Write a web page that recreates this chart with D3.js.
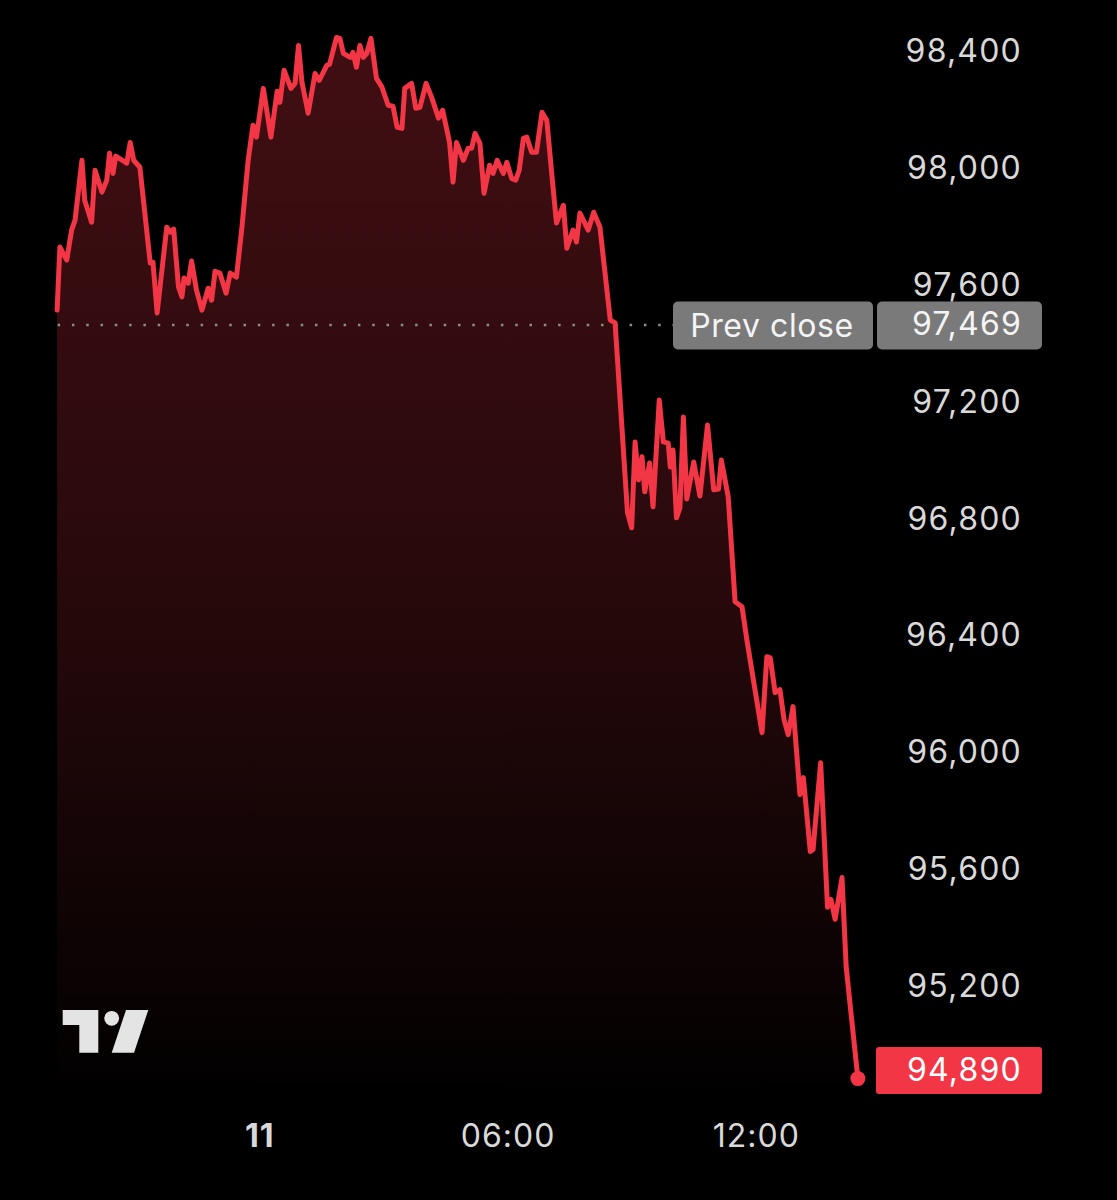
<!DOCTYPE html>
<html><head><meta charset="utf-8">
<script src="https://cdn.jsdelivr.net/npm/d3@7"></script>
<style>html,body{margin:0;background:#000;} svg{display:block}</style>
</head><body>
<svg id="c" width="1117" height="1200"></svg>
<script>
// ---- data ----
const times = [
"10 19:07","10 19:11","10 19:21","10 19:28","10 19:33","10 19:43","10 19:47","10 19:57","10 20:02","10 20:12",
"10 20:19","10 20:23","10 20:28","10 20:32","10 20:48","10 20:53","10 20:58","10 21:07","10 21:22","10 21:26",
"10 21:32","10 21:46","10 21:51","10 21:56","10 22:03","10 22:08","10 22:11","10 22:17","10 22:22","10 22:29",
"10 22:37","10 22:46","10 22:51","10 22:56","10 23:03","10 23:12","10 23:18","10 23:27","10 23:35","10 23:44",
"10 23:51","10 23:56","11 00:06","11 00:17","11 00:26","11 00:30","11 00:36","11 00:46","11 00:52","11 00:57",
"11 01:02","11 01:11","11 01:21","11 01:27","11 01:38","11 01:42","11 01:52","11 01:57","11 02:02","11 02:12",
"11 02:16","11 02:21","11 02:26","11 02:31","11 02:36","11 02:42","11 02:50","11 02:58","11 03:07","11 03:14",
"11 03:20","11 03:27","11 03:31","11 03:41","11 03:47","11 03:53","11 04:02","11 04:10","11 04:20","11 04:26",
"11 04:36","11 04:41","11 04:46","11 04:56","11 05:03","11 05:08","11 05:13","11 05:20","11 05:26","11 05:34",
"11 05:39","11 05:45","11 05:54","11 05:59","11 06:06","11 06:12","11 06:17","11 06:23","11 06:28","11 06:35",
"11 06:42","11 06:50","11 06:57","11 07:05","11 07:11","11 07:21","11 07:26","11 07:35","11 07:40","11 07:45",
"11 07:57","11 08:05","11 08:14","11 08:29","11 08:36","11 08:54","11 09:00","11 09:05","11 09:10","11 09:15",
"11 09:19","11 09:26","11 09:31","11 09:40","11 09:46","11 09:53","11 09:56","11 10:00","11 10:05","11 10:10",
"11 10:15","11 10:20","11 10:30","11 10:39","11 10:50","11 10:59","11 11:06","11 11:10","11 11:20","11 11:30",
"11 11:40","11 11:47","11 12:09","11 12:16","11 12:21","11 12:28","11 12:35","11 12:41","11 12:47","11 12:54",
"11 13:04","11 13:09","11 13:19","11 13:23","11 13:34","11 13:44","11 13:49","11 13:55","11 14:05","11 14:11",
"11 14:17","11 14:28"];
const prices = [
97520,97736,97691,97794,97828,98033,97896,97821,97999,97924,
97965,98057,97988,98047,98023,98094,98033,98009,97681,97684,
97510,97804,97787,97797,97599,97565,97630,97612,97688,97589,
97520,97595,97554,97653,97647,97578,97647,97633,97804,98033,
98153,98112,98279,98112,98269,98231,98341,98279,98296,98426,
98300,98194,98330,98306,98358,98361,98453,98450,98399,98385,
98402,98351,98426,98385,98399,98450,98313,98283,98221,98218,
98146,98142,98279,98296,98211,98214,98296,98248,98177,98204,
98094,97958,98094,98033,98074,98074,98125,98091,97920,98016,
97988,98033,97988,98026,97971,97965,97999,98108,98112,98060,
98060,98197,98170,97965,97818,97879,97732,97794,97753,97852,
97794,97855,97804,97486,97476,96826,96775,97069,96939,97018,
96898,96997,96847,97212,97069,97065,96983,97041,96809,96843,
97154,96874,97000,96884,97127,96905,96908,97007,96881,96522,
96505,96392,96074,96334,96330,96211,96221,96118,96067,96163,
95862,95920,95667,95674,95971,95476,95503,95435,95578,95274,
95137,94890];
const yTicks = [95200, 95600, 96000, 96400, 96800, 97200, 97600, 98000, 98400];
const xTicks = ["11 00:00", "11 06:00", "11 12:00"];
const xTickLabels = ["11", "06:00", "12:00"];
const prevClose = 97469;
const lastPrice = 94890;
const prevCloseLabel = "Prev close";

// ---- chart ----
const FONT = "Inter, 'Noto Sans', sans-serif";
const RED = "#f23645";
const parse = d3.timeParse("%d %H:%M");
const data = times.map((t, i) => ({ t: parse(t), p: prices[i] }));

const svg = d3.select("#c");
svg.append("rect").attr("width", 1117).attr("height", 1200).attr("fill", "#000");

const x = d3.scaleTime().domain([parse("11 00:00"), parse("11 12:00")]).range([259.2, 755.8]);
const y = d3.scaleLinear().domain([95200, 98400]).range([988, 53]);
const bottomY = 1100;

const defs = svg.append("defs");
const grad = defs.append("linearGradient").attr("id", "fillGrad")
  .attr("gradientUnits", "userSpaceOnUse").attr("x1", 0).attr("x2", 0).attr("y1", 30).attr("y2", bottomY);
[[0, 0.27], [0.5, 0.17], [0.9, 0.04], [1, 0.0]].forEach(([o, a]) =>
  grad.append("stop").attr("offset", o).attr("stop-color", RED).attr("stop-opacity", a));

// area
const area = d3.area().x(d => x(d.t)).y0(bottomY).y1(d => y(d.p));
svg.append("path").datum(data).attr("d", area).attr("fill", "url(#fillGrad)");

// prev close dotted line
const pcY = y(prevClose);
svg.append("line").attr("x1", x(data[0].t) + 0.5).attr("x2", 673).attr("y1", pcY).attr("y2", pcY)
  .attr("stroke", "#8c8c8c").attr("stroke-width", 2.5).attr("stroke-dasharray", "2.5 11.8");

// line
const line = d3.line().x(d => x(d.t)).y(d => y(d.p));
svg.append("path").datum(data).attr("d", line).attr("fill", "none")
  .attr("stroke", RED).attr("stroke-width", 5).attr("stroke-linejoin", "round").attr("stroke-linecap", "round");

// end dot
const last = data[data.length - 1];
svg.append("circle").attr("cx", x(last.t)).attr("cy", y(last.p)).attr("r", 7.5).attr("fill", RED);

// y axis
const yAxis = svg.append("g").attr("transform", "translate(1022,-3)")
  .call(d3.axisRight(y).tickValues(yTicks).tickFormat(d3.format(",")).tickSize(0));
yAxis.select(".domain").remove();
yAxis.selectAll("text").attr("x", 0).attr("dy", "0.36em").attr("text-anchor", "end")
  .attr("fill", "#d9d9d9").style("font-family", FONT).style("font-size", "32px").style("letter-spacing", "1.2px");

// x axis
const xAxis = svg.append("g").attr("transform", "translate(0,1135)")
  .call(d3.axisBottom(x).tickValues(xTicks.map(parse)).tickFormat((d, i) => xTickLabels[i]).tickSize(0));
xAxis.select(".domain").remove();
xAxis.selectAll("text").attr("y", 0).attr("dy", "0.36em")
  .attr("fill", "#d9d9d9").style("font-family", FONT).style("font-size", "32px").style("letter-spacing", "1px")
  .style("font-weight", (d, i) => i === 0 ? "700" : "400");

// prev close label
const pcG = svg.append("g");
pcG.append("rect").attr("x", 673).attr("y", pcY - 23.5).attr("width", 200).attr("height", 48).attr("rx", 5).attr("fill", "#7a7a7a");
pcG.append("rect").attr("x", 877).attr("y", pcY - 23.5).attr("width", 165).attr("height", 48).attr("rx", 5).attr("fill", "#7a7a7a");
pcG.append("text").attr("x", 772).attr("y", pcY).attr("dy", "0.36em").attr("text-anchor", "middle")
  .attr("fill", "#f4f4f4").style("font-family", FONT).style("font-size", "32px").style("letter-spacing", "0.6px").text(prevCloseLabel);
pcG.append("text").attr("x", 1022).attr("y", pcY - 2).attr("dy", "0.36em").attr("text-anchor", "end")
  .attr("fill", "#f4f4f4").style("font-family", FONT).style("font-size", "32px").style("letter-spacing", "1.2px").text(d3.format(",")(prevClose));

// last price label
const lpY = y(lastPrice) - 8.5;
svg.append("rect").attr("x", 876).attr("y", lpY - 23).attr("width", 166).attr("height", 47).attr("rx", 3).attr("fill", RED);
svg.append("text").attr("x", 1022).attr("y", lpY - 1).attr("dy", "0.36em").attr("text-anchor", "end")
  .attr("fill", "#ffffff").style("font-family", FONT).style("font-size", "32px").style("letter-spacing", "1.2px").text(d3.format(",")(lastPrice));

// TradingView logo
const logo = svg.append("g").attr("fill", "#e4e4e4");
logo.append("path").attr("d", "M62.7,1010 H98.3 V1052.7 H79.3 V1025 H62.7 Z");
logo.append("circle").attr("cx", 111.7).attr("cy", 1018.3).attr("r", 7.4);
logo.append("path").attr("d", "M126,1010 H148.3 L134,1052.7 H111.7 Z");
</script>
</body></html>
